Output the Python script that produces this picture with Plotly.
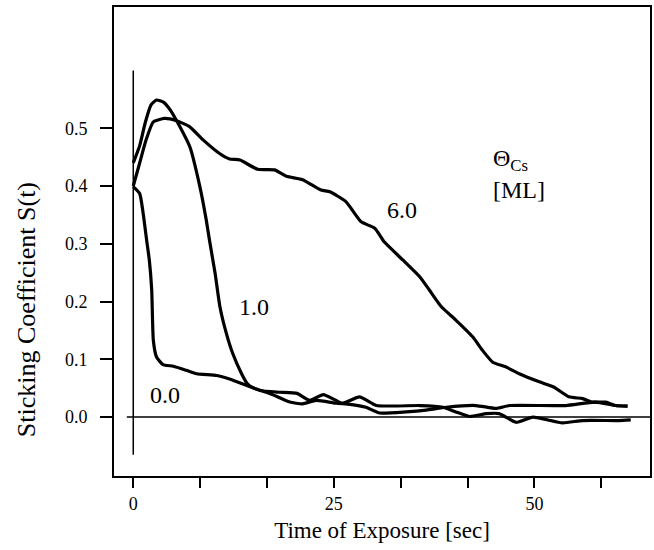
import plotly.graph_objects as go

# ---- data ----
t_cov0 = [0, 0.8, 1.24, 1.67, 2.0, 2.3, 2.5, 2.9, 3.7, 5.0, 6.6, 7.9, 10.4, 12.0, 14.1, 15.8,
          18.2, 20.4, 22.0, 23.7, 26.1, 28.2, 30.3, 35.7, 38.6, 40.2, 41.9, 44.0, 45.6, 47.7,
          49.8, 53.5, 56.0, 60.5, 62.0]
s_cov0 = [0.399, 0.387, 0.352, 0.306, 0.272, 0.22, 0.133, 0.104, 0.091, 0.088, 0.081, 0.075,
          0.072, 0.066, 0.055, 0.046, 0.043, 0.041, 0.029, 0.039, 0.024, 0.035, 0.02, 0.02,
          0.017, 0.009, 0.001, 0.006, 0.006, -0.009, 0.0, -0.01, -0.006, -0.006, -0.005]

t_cov1 = [0, 0.8, 1.5, 2.2, 2.9, 3.8, 4.6, 5.8, 7.05, 8.3, 9.1, 9.5, 10.2, 10.8, 11.6, 12.4,
          13.5, 14.2, 14.9, 16.6, 17.5, 19.5, 21.1, 22.8, 25.3, 27.0, 29.0, 30.7, 34.0, 36.5,
          39.0, 42.7, 45.2, 46.9, 53.9, 57.6, 60.1, 61.6]
s_cov1 = [0.44, 0.47, 0.51, 0.54, 0.549, 0.545, 0.532, 0.503, 0.468, 0.399, 0.341, 0.306,
          0.249, 0.191, 0.145, 0.11, 0.075, 0.058, 0.051, 0.043, 0.038, 0.026, 0.023, 0.029,
          0.024, 0.022, 0.017, 0.007, 0.009, 0.012, 0.017, 0.02, 0.015, 0.02, 0.02, 0.026,
          0.02, 0.019]

t_cov6 = [0, 0.8, 1.6, 2.5, 3.9, 5.4, 7.0, 8.7, 10.8, 12.0, 13.3, 15.5, 17.6, 19.1, 21.1,
          23.4, 24.5, 26.5, 28.4, 30.1, 31.3, 33.6, 35.7, 36.9, 38.4, 40.2, 42.3, 43.5, 44.8,
          46.4, 48.1, 50.6, 52.4, 54.3, 56.0, 57.2, 58.9, 60.1, 61.6]
s_cov6 = [0.40, 0.44, 0.48, 0.511, 0.517, 0.513, 0.503, 0.48, 0.456, 0.447, 0.445, 0.429,
          0.428, 0.417, 0.411, 0.393, 0.39, 0.373, 0.338, 0.327, 0.303, 0.272, 0.243, 0.22,
          0.191, 0.168, 0.139, 0.116, 0.095, 0.087, 0.075, 0.061, 0.052, 0.035, 0.032, 0.026,
          0.026, 0.02, 0.019]

x_tickvals = [0, 25, 50]
x_ticktext = ["0", "25", "50"]
x_minor_step = 25 / 3
y_tickvals = [0.0, 0.1, 0.2, 0.3, 0.4, 0.5]
y_ticktext = ["0.0", "0.1", "0.2", "0.3", "0.4", "0.5"]

curve_labels = ["0.0", "1.0", "6.0"]
label_pos_t = [3.9, 15.1, 33.5]
label_pos_s = [0.038, 0.191, 0.359]

FONT = "Liberation Serif, Times New Roman, serif"
NBSP = "\u00a0"

fig = go.Figure()
for t, s in [(t_cov0, s_cov0), (t_cov1, s_cov1), (t_cov6, s_cov6)]:
    fig.add_trace(go.Scatter(x=t, y=s, mode="lines",
                             line=dict(color="black", width=3.2, shape="spline", smoothing=0.5),
                             showlegend=False, hoverinfo="skip"))

# reference lines at t=0 and S=0
fig.add_shape(type="line", x0=0, x1=0, y0=-0.065, y1=0.60, xref="x", yref="y",
              line=dict(color="black", width=1.5), layer="below")
fig.add_shape(type="line", x0=-0.8, x1=64.4, y0=0, y1=0, xref="x", yref="y",
              line=dict(color="black", width=1.5), layer="below")

for lab, lx, ly in zip(curve_labels, label_pos_t, label_pos_s):
    fig.add_annotation(x=lx, y=ly, text=lab, showarrow=False,
                       font=dict(family=FONT, size=24, color="black"))

fig.add_annotation(x=44.6, y=0.445, text="Θ<sub>Cs</sub>", showarrow=False, xanchor="left",
                   font=dict(family=FONT, size=24, color="black"))
fig.add_annotation(x=44.6, y=0.393, text="[ML]", showarrow=False, xanchor="left",
                   font=dict(family=FONT, size=24, color="black"))

# y-axis title (placed lower than axis centre, as in the reference)
fig.add_annotation(x=-0.162, y=0.354, xref="paper", yref="paper", textangle=-90,
                   xanchor="center", yanchor="middle",
                   text="Sticking Coefficient S(t)", showarrow=False,
                   font=dict(family=FONT, size=26, color="black"))

fig.update_layout(
    width=654, height=550,
    margin=dict(l=114, r=2, t=7, b=74),
    paper_bgcolor="white", plot_bgcolor="white",
    font=dict(family=FONT, color="black"),
    xaxis=dict(range=[-2.4, 64.4], tickvals=x_tickvals, ticktext=x_ticktext,
               ticks="outside", ticklen=10, tickwidth=1.5, tickcolor="black",
               minor=dict(dtick=x_minor_step, tick0=0, ticks="outside", ticklen=10,
                          tickwidth=1.5, tickcolor="black", showgrid=False),
               showline=True, linecolor="black", linewidth=2, mirror=True,
               showgrid=False, zeroline=False,
               tickfont=dict(family=FONT, size=18),
               title=dict(text="Time of Exposure [sec]", font=dict(family=FONT, size=23),
                          standoff=9)),
    yaxis=dict(range=[-0.102, 0.710], tickvals=y_tickvals,
               ticktext=[t + NBSP * 2 for t in y_ticktext],
               ticks="outside", ticklen=12, tickwidth=1.5, tickcolor="black",
               showline=True, linecolor="black", linewidth=2, mirror=True,
               showgrid=False, zeroline=False,
               tickfont=dict(family=FONT, size=18)),
)

fig.write_html("out.html")
